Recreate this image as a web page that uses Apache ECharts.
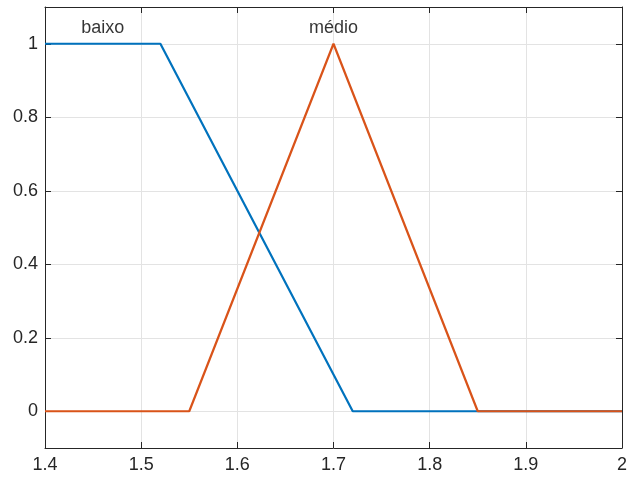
<!DOCTYPE html>
<html><head><meta charset="utf-8">
<script src="https://cdn.jsdelivr.net/npm/echarts@6/dist/echarts.min.js"></script>
<style>html,body{margin:0;padding:0;background:#fff}#c{width:630px;height:479px}</style>
</head><body><div id="c"></div>
<script>
const baixoX = [1.4, 1.52, 1.72, 2.0];
const baixoY = [1, 1, 0, 0];
const medioX = [1.4, 1.55, 1.7, 1.85, 2.0];
const medioY = [0, 0, 1, 0, 0];
const labelNames = ['baixo', 'médio'];
const labelX = [1.46, 1.7];
const labelY = [1.042, 1.042];
const yTicks = [0, 0.2, 0.4, 0.6, 0.8, 1];

const chart = echarts.init(document.getElementById('c'), null, {renderer: 'canvas'});
const fmt = v => String(+(+v).toFixed(2));
const FF = 'Liberation Sans, Arial, Helvetica, sans-serif';
const axisFont = {color: '#262626', fontSize: 18, fontFamily: FF};
const axLine = {show: true, onZero: false, lineStyle: {color: '#262626', width: 1}};
const tick = {show: true, inside: true, length: 6, lineStyle: {color: '#262626'}};
chart.setOption({
  animation: false,
  backgroundColor: '#fff',
  grid: {left: 45, right: 4, top: 7, bottom: 31, containLabel: false},
  xAxis: [{
    type: 'value', min: 1.4, max: 2, interval: 0.1, position: 'bottom',
    axisLine: axLine, axisTick: tick,
    axisLabel: Object.assign({formatter: fmt, margin: 8}, axisFont),
    splitLine: {show: true, lineStyle: {color: '#e3e3e3', width: 1}}
  }, {
    type: 'value', min: 1.4, max: 2, interval: 0.1, position: 'top',
    axisLine: axLine, axisTick: tick, axisLabel: {show: false}, splitLine: {show: false}
  }],
  yAxis: [{
    type: 'value', min: -0.1, max: 1.1, position: 'left',
    axisLine: axLine,
    axisTick: Object.assign({customValues: yTicks}, tick),
    axisLabel: Object.assign({formatter: fmt, margin: 7, customValues: yTicks}, axisFont),
    splitLine: {show: true, lineStyle: {color: '#e3e3e3', width: 1}}
  }, {
    type: 'value', min: -0.1, max: 1.1, position: 'right',
    axisLine: axLine,
    axisTick: Object.assign({customValues: yTicks}, tick),
    axisLabel: {show: false, customValues: yTicks}, splitLine: {show: false}
  }],
  series: [
    {type: 'line', data: baixoX.map((x, i) => [x, baixoY[i]]), symbol: 'none',
     lineStyle: {color: '#0072BD', width: 2.2}, z: 3},
    {type: 'line', data: medioX.map((x, i) => [x, medioY[i]]), symbol: 'none',
     lineStyle: {color: '#D95319', width: 2.2}, z: 4},
    {type: 'scatter', symbolSize: 0, z: 5,
     data: labelNames.map((n, i) => ({name: n, value: [labelX[i], labelY[i]]})),
     label: {show: true, position: 'inside', formatter: p => p.name,
             color: '#000', fontSize: 18, fontFamily: FF}}
  ]
});
</script></body></html>
